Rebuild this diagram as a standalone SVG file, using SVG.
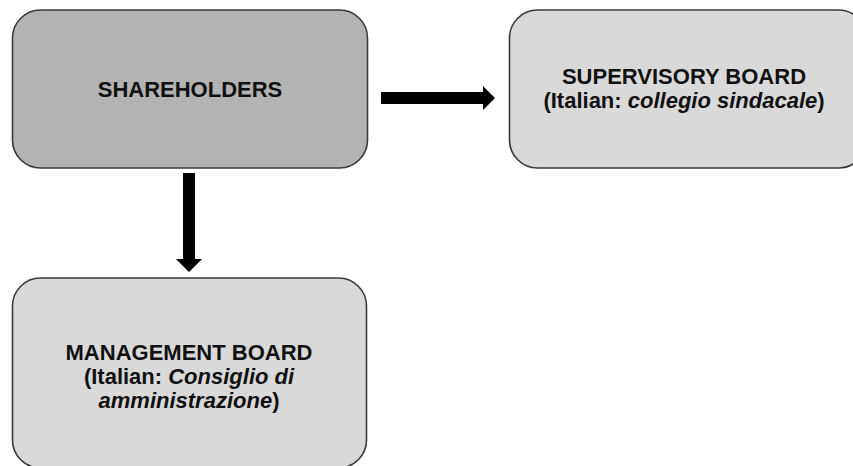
<svg xmlns="http://www.w3.org/2000/svg" width="853" height="466" viewBox="0 0 853 466">
  <style>
    .box { stroke: #3a3a3a; stroke-width: 1.6; }
    .dark { fill: #b3b3b3; }
    .light { fill: #d9d9d9; }
    .label { font-family: "Liberation Sans", Arial, sans-serif; font-weight: bold; font-size: 22px; fill: #111; text-anchor: middle; }
    .it { font-style: italic; }
    .arrow { fill: #000; }
  </style>
  <rect width="853" height="466" fill="#ffffff"/>

  <g id="shareholders">
    <rect class="box dark" x="12.5" y="10" width="355" height="158" rx="28"/>
    <text class="label" x="190" y="97">SHAREHOLDERS</text>
  </g>

  <g id="supervisory-board">
    <rect class="box light" x="509.5" y="10" width="357" height="158" rx="28"/>
    <text class="label" x="684" y="84">SUPERVISORY BOARD</text>
    <text class="label" x="684" y="107.5">(Italian: <tspan class="it">collegio sindacale</tspan>)</text>
  </g>

  <g id="management-board">
    <rect class="box light" x="12.5" y="278" width="354" height="190" rx="28"/>
    <text class="label" x="189" y="360">MANAGEMENT BOARD</text>
    <text class="label" x="189" y="384">(Italian: <tspan class="it">Consiglio di</tspan></text>
    <text class="label" x="189" y="408"><tspan class="it">amministrazione</tspan>)</text>
  </g>

  <g id="connectors">
    <!-- shareholders to supervisory board -->
    <polygon class="arrow" points="381,92 483,92 483,86 495,98 483,110 483,104 381,104"/>
    <!-- shareholders to management board -->
    <polygon class="arrow" points="183,173 195,173 195,259 202,259 189,272 176,259 183,259"/>
  </g>
</svg>
